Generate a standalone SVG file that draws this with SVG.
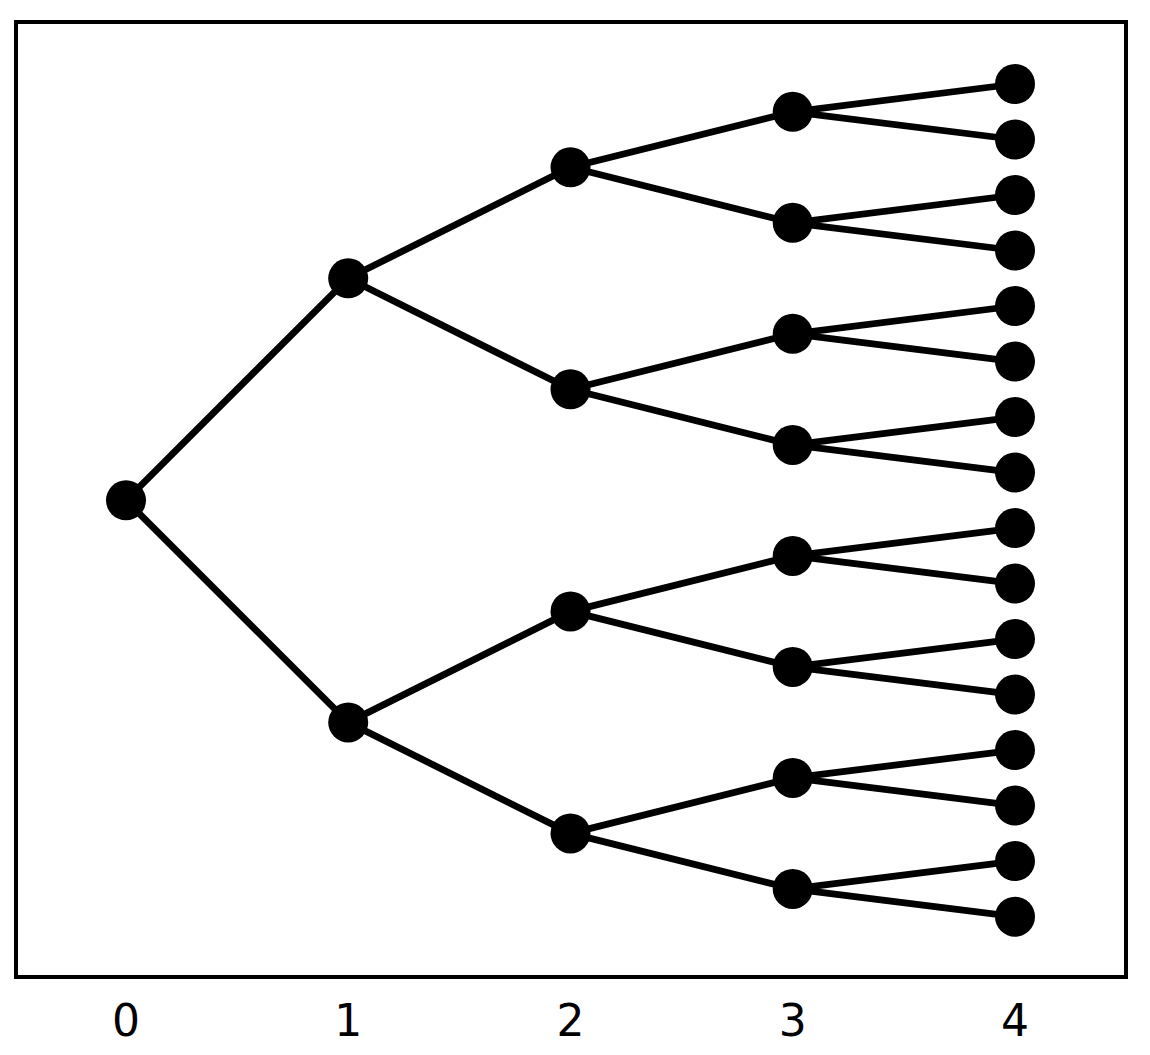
<svg xmlns="http://www.w3.org/2000/svg" width="1150" height="1055" viewBox="0 0 1150 1055">
<style>
.e{stroke:#000;stroke-width:6.8;fill:none}
.n{fill:#000}
.t{font-family:"DejaVu Sans",sans-serif;font-size:44px;text-anchor:middle;fill:#000}
</style>
<rect width="1150" height="1055" fill="#fff"/>
<rect x="16" y="22" width="1110" height="955" fill="none" stroke="#000" stroke-width="4"/>
<g id="connectors">
<path class="e" d="M126,500.3L348.2,278.3M126,500.3L348.2,722.4"/>
<path class="e" d="M348.2,278.3L570.5,167.3M348.2,278.3L570.5,389.3M348.2,722.4L570.5,611.4M348.2,722.4L570.5,833.4"/>
<path class="e" d="M570.5,167.3L792.7,111.8M570.5,167.3L792.7,222.8M570.5,389.3L792.7,333.8M570.5,389.3L792.7,444.9M570.5,611.4L792.7,555.9M570.5,611.4L792.7,666.9M570.5,833.4L792.7,777.9M570.5,833.4L792.7,888.9"/>
<path class="e" d="M792.7,111.8L1015,84M792.7,111.8L1015,139.5M792.7,222.8L1015,195M792.7,222.8L1015,250.5M792.7,333.8L1015,306M792.7,333.8L1015,361.6M792.7,444.9L1015,417.1M792.7,444.9L1015,472.6M792.7,555.9L1015,528.1M792.7,555.9L1015,583.6M792.7,666.9L1015,639.1M792.7,666.9L1015,694.6M792.7,777.9L1015,750.1M792.7,777.9L1015,805.6M792.7,888.9L1015,861.1M792.7,888.9L1015,916.7"/>
</g>
<g id="n0"><circle class="n" cx="126" cy="500.3" r="20"/></g>
<g id="n1a"><circle class="n" cx="348.2" cy="278.3" r="20"/></g>
<g id="n1b"><circle class="n" cx="348.2" cy="722.4" r="20"/></g>
<g id="n2a"><circle class="n" cx="570.5" cy="167.3" r="20"/></g>
<g id="n2b"><circle class="n" cx="570.5" cy="389.3" r="20"/></g>
<g id="n2c"><circle class="n" cx="570.5" cy="611.4" r="20"/></g>
<g id="n2d"><circle class="n" cx="570.5" cy="833.4" r="20"/></g>
<g id="n3a"><circle class="n" cx="792.7" cy="111.8" r="20"/></g>
<g id="n3b"><circle class="n" cx="792.7" cy="222.8" r="20"/></g>
<g id="n3c"><circle class="n" cx="792.7" cy="333.8" r="20"/></g>
<g id="n3d"><circle class="n" cx="792.7" cy="444.9" r="20"/></g>
<g id="n3e"><circle class="n" cx="792.7" cy="555.9" r="20"/></g>
<g id="n3f"><circle class="n" cx="792.7" cy="666.9" r="20"/></g>
<g id="n3g"><circle class="n" cx="792.7" cy="777.9" r="20"/></g>
<g id="n3h"><circle class="n" cx="792.7" cy="888.9" r="20"/></g>
<g id="n4a"><circle class="n" cx="1015" cy="84" r="20"/></g>
<g id="n4b"><circle class="n" cx="1015" cy="139.5" r="20"/></g>
<g id="n4c"><circle class="n" cx="1015" cy="195" r="20"/></g>
<g id="n4d"><circle class="n" cx="1015" cy="250.5" r="20"/></g>
<g id="n4e"><circle class="n" cx="1015" cy="306" r="20"/></g>
<g id="n4f"><circle class="n" cx="1015" cy="361.6" r="20"/></g>
<g id="n4g"><circle class="n" cx="1015" cy="417.1" r="20"/></g>
<g id="n4h"><circle class="n" cx="1015" cy="472.6" r="20"/></g>
<g id="n4i"><circle class="n" cx="1015" cy="528.1" r="20"/></g>
<g id="n4j"><circle class="n" cx="1015" cy="583.6" r="20"/></g>
<g id="n4k"><circle class="n" cx="1015" cy="639.1" r="20"/></g>
<g id="n4l"><circle class="n" cx="1015" cy="694.6" r="20"/></g>
<g id="n4m"><circle class="n" cx="1015" cy="750.1" r="20"/></g>
<g id="n4n"><circle class="n" cx="1015" cy="805.6" r="20"/></g>
<g id="n4o"><circle class="n" cx="1015" cy="861.1" r="20"/></g>
<g id="n4p"><circle class="n" cx="1015" cy="916.7" r="20"/></g>
<g id="labels">
<text class="t" x="126" y="1036">0</text>
<text class="t" x="348.2" y="1036">1</text>
<text class="t" x="570.5" y="1036">2</text>
<text class="t" x="792.7" y="1036">3</text>
<text class="t" x="1015" y="1036">4</text>
</g>
</svg>
